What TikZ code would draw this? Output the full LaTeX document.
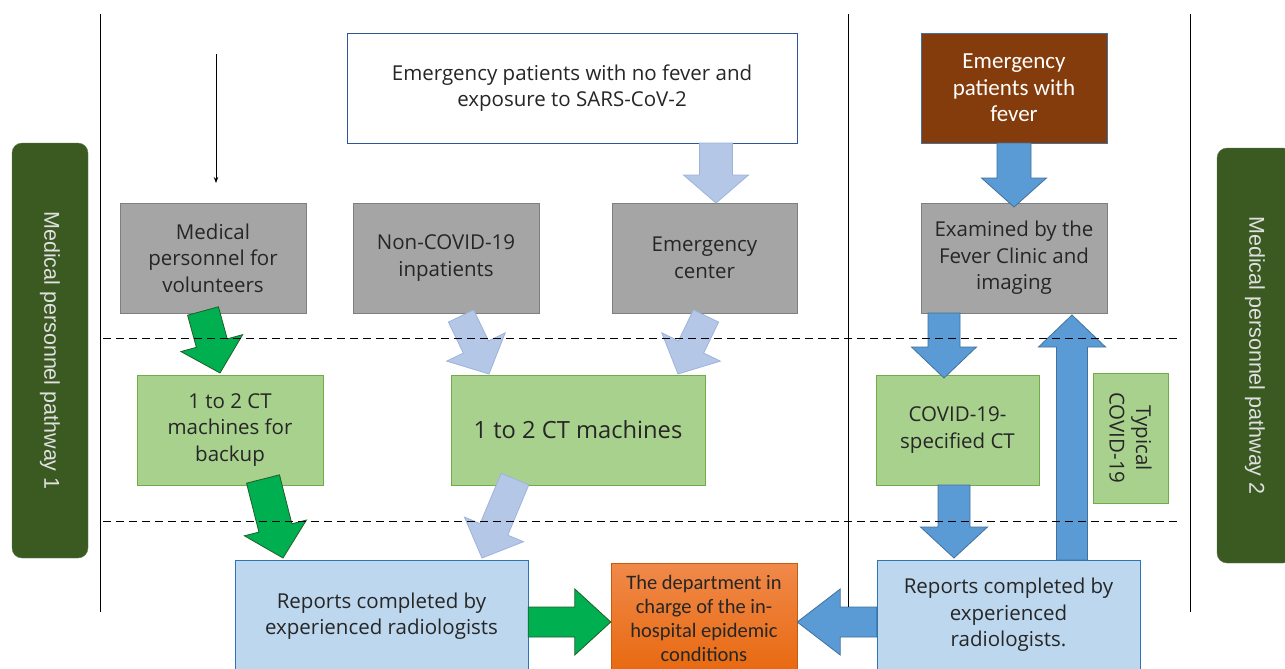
\documentclass[tikz,border=0pt]{standalone}
\usepackage{fontspec}
\setmainfont{Open Sans}
\newfontfamily\calfont{Carlito}
\newfontfamily\arialfont{Liberation Sans}
\usetikzlibrary{calc,arrows.meta}
\definecolor{ofgray}{HTML}{A5A5A5}
\definecolor{ofgrayb}{HTML}{7F7F7F}
\definecolor{lgreen}{HTML}{A9D18E}
\definecolor{lgreenb}{HTML}{70AD47}
\definecolor{lblue}{HTML}{BDD7EE}
\definecolor{lblueb}{HTML}{2E75B6}
\definecolor{wboxb}{HTML}{2F5597}
\definecolor{brown}{HTML}{843C0C}
\definecolor{dkgreen}{HTML}{3A5A22}
\definecolor{arlb}{HTML}{B4C7E7}
\definecolor{arlbb}{HTML}{9DB3DB}
\definecolor{argr}{HTML}{00B050}
\definecolor{argrb}{HTML}{1F5F2A}
\definecolor{arbl}{HTML}{5B9BD5}
\definecolor{arblb}{HTML}{41719C}
\definecolor{txt}{HTML}{262626}
\definecolor{orTop}{HTML}{F0894A}
\definecolor{orBot}{HTML}{E8690F}
\definecolor{orBorder}{HTML}{C55A11}
\newcommand\barrow[6]{%
  \coordinate (tmpH) at ($(#3)!#6!(#2)$);
  \draw[#1] ($(#2)!#4!90:(#3)$) -- ($(tmpH)!#4!90:(#3)$) -- ($(tmpH)!#5!90:(#3)$) -- (#3)
    -- ($(tmpH)!#5!-90:(#3)$) -- ($(tmpH)!#4!-90:(#3)$) -- ($(#2)!#4!-90:(#3)$) -- cycle;
}
\tikzset{
  base/.style={inner sep=0pt, align=center, text=txt, font=\fontsize{20.5}{26.5}\selectfont},
  graybox/.style={base, draw=ofgrayb, fill=ofgray, minimum width=186, minimum height=110},
  greenbox/.style={base, draw=lgreenb, fill=lgreen, minimum height=110},
  bluebox/.style={base, draw=lblueb, fill=lblue},
  sidebox/.style={fill=dkgreen, draw=dkgreen!80!white, rounded corners=10, rotate=-90,
     minimum width=415, minimum height=76, text=white!88!black,
     font=\arialfont\fontsize{21.5}{24}\selectfont},
  lbarrow/.style={fill=arlb, draw=arlbb, line width=0.8pt},
  grarrow/.style={fill=argr, draw=argrb, line width=0.8pt},
  blarrow/.style={fill=arbl, draw=arblb, line width=0.8pt},
  sepline/.style={line width=1pt, draw=black},
  dashline/.style={line width=1pt, dash pattern=on 8pt off 5pt},
}
\begin{document}
\begin{tikzpicture}[x=1pt, y=-1pt]
\useasboundingbox (0,0) rectangle (1285,669);
\clip (0,0) rectangle (1285,669);
\fill[white] (0,0) rectangle (1285,669);

% separator lines
\draw[sepline] (100,14) -- (100,612);
\draw[sepline] (1190,14) -- (1190,612);
\draw[dashline] (103,338) -- (1180,338);
\draw[dashline] (103,521) -- (1180,521);

% side labels
\node[sidebox] (side1) at (50,350.5) {Medical personnel pathway 1};
\node[sidebox] (side2) at (1255,355.5) {Medical personnel pathway 2};

% top row
\node[base, draw=wboxb, fill=white, line width=0.8pt, minimum width=450, minimum height=110] (nofever) at (572,88)
  {Emergency patients with no fever and\\exposure to SARS-CoV-2};
\node[base, draw=arblb, fill=brown, minimum width=186, minimum height=110, text=white,
  font=\calfont\fontsize{23}{26.5}\selectfont] (fever) at (1014,88)
  {Emergency\\patients with\\fever};

% gray row
\node[graybox] (med) at (213,258) {Medical\\personnel for\\volunteers};
\node[graybox] (nonc) at (446,258) {Non-COVID-19\\inpatients};
\node[graybox, minimum width=185] (emc) at (704.5,258) {Emergency\\center};
\node[graybox] (exam) at (1014,258) {Examined by the\\Fever Clinic and\\imaging};

% green row
\node[greenbox, minimum width=186] (backup) at (230,430) {1 to 2 CT\\machines for\\backup};
\node[greenbox, minimum width=254, font=\fontsize{23.7}{27}\selectfont] (ct) at (578,430) {1 to 2 CT machines};
\node[greenbox, minimum width=163] (covct) at (957.5,430) {COVID-19-\\specified CT};
\node[base, draw=lgreenb, fill=lgreen, rotate=-90, minimum width=130, minimum height=75] (typ) at (1130.5,438)
  {Typical\\COVID-19};

% bottom row
\node[bluebox, minimum width=293, minimum height=112] (repl) at (381.5,616)
  {Reports completed by\\experienced radiologists};
\node[base, draw=orBorder, top color=orTop, bottom color=orBot,
  minimum width=186, minimum height=110,
  font=\calfont\fontsize{20.5}{24}\selectfont] (dept) at (704,618)
  {The department in\\charge of the in-\\hospital epidemic\\conditions};
\node[bluebox, minimum width=263, minimum height=110] (repr) at (1008.5,615)
  {Reports completed by\\experienced\\radiologists.};

% thin arrow
\coordinate (ta1) at (216,54);
\coordinate (ta2) at (216,183);
\draw[line width=1pt, -{Stealth[length=6pt,width=4.5pt]}] (ta1) -- (ta2);

% block arrows
\coordinate (a1s) at (716,143); \coordinate (a1e) at (716,203);
\barrow{lbarrow}{a1s}{a1e}{16.5pt}{32.5pt}{28pt}
\coordinate (a2s) at (706,316); \coordinate (a2e) at (678,374);
\barrow{lbarrow}{a2s}{a2e}{14pt}{32.5pt}{30pt}
\coordinate (a3s) at (461,316); \coordinate (a3e) at (489,374);
\barrow{lbarrow}{a3s}{a3e}{14pt}{32.5pt}{30pt}
\coordinate (a4s) at (203,311); \coordinate (a4e) at (220,373);
\barrow{grarrow}{a4s}{a4e}{16pt}{32pt}{31pt}
\coordinate (a5s) at (263,479); \coordinate (a5e) at (283,558);
\barrow{grarrow}{a5s}{a5e}{17pt}{32pt}{31pt}
\coordinate (a6s) at (515,479); \coordinate (a6e) at (482,558);
\barrow{lbarrow}{a6s}{a6e}{15pt}{32pt}{31pt}
\coordinate (a7s) at (repl.east |- 0,622); \coordinate (a7e) at (dept.west |- 0,622);
\barrow{grarrow}{a7s}{a7e}{15pt}{33pt}{36pt}
\coordinate (a8s) at (repr.west |- 0,622); \coordinate (a8e) at (dept.east |- 0,622);
\barrow{blarrow}{a8s}{a8e}{15pt}{33pt}{43pt}
\coordinate (a9s) at (1014,143); \coordinate (a9e) at (1014,207);
\barrow{blarrow}{a9s}{a9e}{17pt}{32.5pt}{29pt}
\coordinate (a10s) at (944,313); \coordinate (a10e) at (944,378);
\barrow{blarrow}{a10s}{a10e}{16pt}{32.5pt}{31pt}
\coordinate (a11s) at (954,485); \coordinate (a11e) at (954,558);
\barrow{blarrow}{a11s}{a11e}{16pt}{33.5pt}{31pt}
\coordinate (a12s) at (1072,560); \coordinate (a12e) at (1072,315);
\barrow{blarrow}{a12s}{a12e}{15.5pt}{33.5pt}{32pt}

\draw[sepline] (848,14) -- (848,607);
% redraw dashes over arrows
\draw[dashline] (103,338) -- (1180,338);
\draw[dashline] (103,521) -- (1180,521);
\end{tikzpicture}
\end{document}
